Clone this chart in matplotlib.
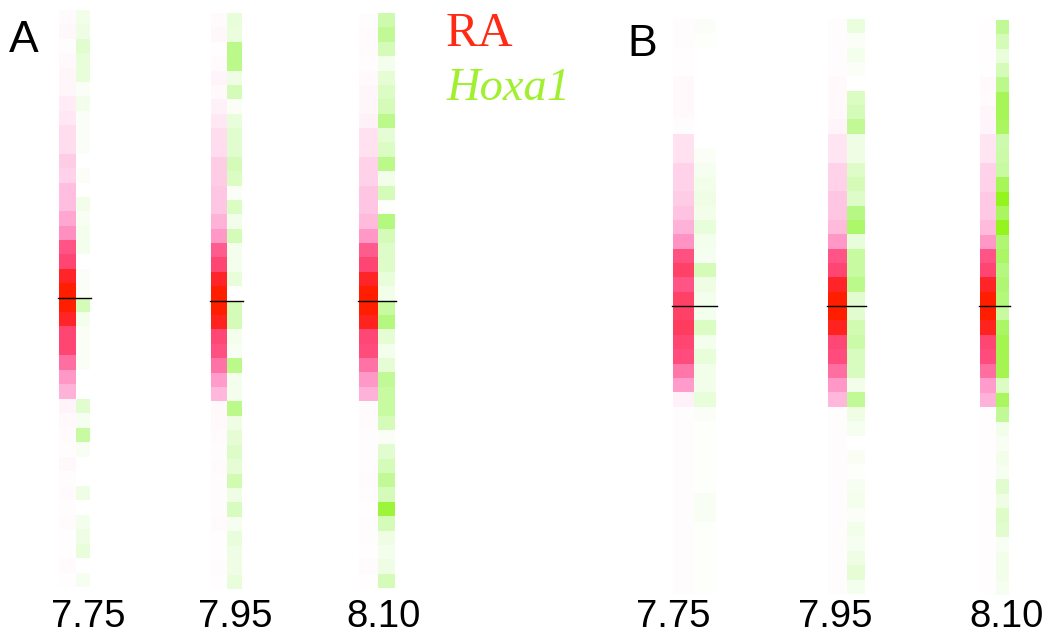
import matplotlib
matplotlib.use('Agg')
import numpy as np
import matplotlib.pyplot as plt
from matplotlib.colors import LinearSegmentedColormap

# stage labels
stages = ['7.75', '7.95', '8.10']

# RA (red) and Hoxa1 (green) intensities, 40 cells top -> bottom, 0..1
ra_A_775 = [0.05, 0.07, 0.03, 0.06, 0.08, 0.08, 0.15, 0.18, 0.25, 0.25,
            0.33, 0.30, 0.40, 0.40, 0.50, 0.58, 0.72, 0.76, 0.90, 1.00,
            1.00, 0.90, 0.76, 0.76, 0.66, 0.56, 0.45, 0.10, 0.06, 0.05,
            0.03, 0.07, 0.03, 0.04, 0.03, 0.04, 0.02, 0.02, 0.05, 0.02]
hox_A_775 = [0.12, 0.15, 0.25, 0.20, 0.20, 0.05, 0.12, 0.04, 0.04, 0.04,
             0.00, 0.05, 0.00, 0.12, 0.06, 0.10, 0.10, 0.00, 0.04, 0.04,
             0.35, 0.10, 0.05, 0.05, 0.05, 0.00, 0.00, 0.25, 0.08, 0.45,
             0.06, 0.00, 0.00, 0.15, 0.00, 0.10, 0.15, 0.20, 0.00, 0.08]
ra_A_795 = [0.04, 0.07, 0.02, 0.05, 0.10, 0.06, 0.12, 0.18, 0.25, 0.25,
            0.33, 0.33, 0.36, 0.36, 0.45, 0.56, 0.70, 0.76, 0.90, 1.00,
            1.00, 0.92, 0.75, 0.73, 0.65, 0.55, 0.43, 0.06, 0.06, 0.04,
            0.03, 0.04, 0.03, 0.03, 0.03, 0.04, 0.02, 0.02, 0.03, 0.02]
hox_A_795 = [0.20, 0.18, 0.55, 0.55, 0.15, 0.35, 0.05, 0.20, 0.25, 0.25,
             0.35, 0.30, 0.05, 0.30, 0.12, 0.35, 0.10, 0.10, 0.20, 0.00,
             0.35, 0.35, 0.10, 0.06, 0.55, 0.10, 0.10, 0.55, 0.15, 0.22,
             0.28, 0.22, 0.38, 0.15, 0.32, 0.08, 0.20, 0.15, 0.15, 0.20]
ra_A_810 = [0.03, 0.04, 0.05, 0.03, 0.06, 0.08, 0.08, 0.12, 0.22, 0.22,
            0.30, 0.30, 0.36, 0.36, 0.42, 0.56, 0.70, 0.76, 0.90, 1.00,
            1.00, 0.92, 0.75, 0.74, 0.65, 0.56, 0.45, 0.04, 0.05, 0.03,
            0.03, 0.03, 0.04, 0.03, 0.02, 0.03, 0.03, 0.02, 0.04, 0.02]
hox_A_810 = [0.40, 0.50, 0.35, 0.10, 0.22, 0.30, 0.35, 0.55, 0.22, 0.30,
             0.55, 0.12, 0.35, 0.03, 0.60, 0.35, 0.28, 0.28, 0.20, 0.12,
             0.45, 0.60, 0.22, 0.10, 0.22, 0.50, 0.45, 0.45, 0.35, 0.05,
             0.25, 0.35, 0.50, 0.35, 0.85, 0.35, 0.15, 0.10, 0.15, 0.35]

ra_B_775 = [0.03, 0.03, 0.02, 0.02, 0.06, 0.06, 0.06, 0.03, 0.22, 0.22,
            0.30, 0.30, 0.33, 0.38, 0.45, 0.57, 0.73, 0.78, 0.72, 0.78,
            0.78, 0.80, 0.76, 0.74, 0.64, 0.55, 0.12, 0.03, 0.03, 0.03,
            0.03, 0.03, 0.03, 0.03, 0.03, 0.03, 0.03, 0.03, 0.03, 0.03]
hox_B_775 = [0.04, 0.03, 0.00, 0.00, 0.00, 0.00, 0.00, 0.00, 0.00, 0.05,
             0.08, 0.12, 0.15, 0.12, 0.20, 0.10, 0.08, 0.35, 0.15, 0.10,
             0.10, 0.30, 0.10, 0.20, 0.12, 0.12, 0.20, 0.05, 0.03, 0.02,
             0.02, 0.02, 0.02, 0.06, 0.06, 0.03, 0.02, 0.03, 0.02, 0.02]
ra_B_795 = [0.03, 0.03, 0.03, 0.03, 0.06, 0.06, 0.06, 0.10, 0.20, 0.20,
            0.30, 0.30, 0.36, 0.36, 0.42, 0.56, 0.72, 0.76, 0.90, 1.00,
            1.00, 0.92, 0.75, 0.74, 0.66, 0.56, 0.43, 0.03, 0.03, 0.03,
            0.03, 0.03, 0.03, 0.03, 0.03, 0.03, 0.03, 0.03, 0.03, 0.03]
hox_B_795 = [0.18, 0.05, 0.10, 0.05, 0.00, 0.30, 0.35, 0.50, 0.15, 0.15,
             0.28, 0.35, 0.28, 0.58, 0.68, 0.20, 0.45, 0.45, 0.55, 0.25,
             0.25, 0.38, 0.42, 0.32, 0.32, 0.12, 0.50, 0.15, 0.08, 0.00,
             0.06, 0.03, 0.08, 0.10, 0.04, 0.12, 0.08, 0.15, 0.22, 0.10]
ra_B_810 = [0.02, 0.02, 0.02, 0.02, 0.06, 0.04, 0.08, 0.10, 0.20, 0.20,
            0.30, 0.30, 0.35, 0.35, 0.42, 0.56, 0.72, 0.76, 0.90, 1.00,
            1.00, 0.92, 0.76, 0.74, 0.66, 0.55, 0.45, 0.02, 0.02, 0.02,
            0.02, 0.02, 0.02, 0.02, 0.02, 0.02, 0.02, 0.02, 0.02, 0.02]
hox_B_810 = [0.50, 0.35, 0.20, 0.35, 0.55, 0.75, 0.75, 0.72, 0.40, 0.42,
             0.45, 0.75, 0.95, 0.72, 0.95, 0.65, 0.70, 0.60, 0.65, 0.62,
             0.45, 0.70, 0.78, 0.78, 0.78, 0.30, 0.72, 0.50, 0.12, 0.06,
             0.12, 0.08, 0.25, 0.15, 0.28, 0.25, 0.06, 0.12, 0.12, 0.08]

red_cmap = LinearSegmentedColormap.from_list('ra', [
    (0, '#ffffff'), (0.1, '#fff4f9'), (0.25, '#ffdcee'), (0.4, '#ffbedf'),
    (0.55, '#ff9ccb'), (0.65, '#ff72a5'), (0.75, '#ff4878'), (0.9, '#ff2428'),
    (1.0, '#ff1e00')])
green_cmap = LinearSegmentedColormap.from_list('hox', [
    (0, '#ffffff'), (0.15, '#eefde4'), (0.35, '#d4fbb8'), (0.6, '#b4f880'),
    (0.8, '#a2f54a'), (1.0, '#90f510')])

# layout of the strips (pixels): red x0, split, green x1, top, centre line, bottom
strips = [
    (ra_A_775, hox_A_775, 59, 75.5, 90, 10, 297.5, 587),
    (ra_A_795, hox_A_795, 211, 227, 242, 13, 300.5, 589),
    (ra_A_810, hox_A_810, 359, 377.5, 395, 13, 300.5, 588),
    (ra_B_775, hox_B_775, 673, 694, 716, 19, 306, 594),
    (ra_B_795, hox_B_795, 828, 847, 865, 19, 306, 594),
    (ra_B_810, hox_B_810, 980, 996, 1009, 20, 306, 595),
]
label_x = [88, 235, 384, 673, 835, 1007]

fig = plt.figure(figsize=(10.44, 6.37), dpi=100)
ax = fig.add_axes([0, 0, 1, 1])
ax.set_xlim(0, 1044)
ax.set_ylim(637, 0)
ax.axis('off')

for i, (ra, hox, x0, xm, x1, top, mid, bot) in enumerate(strips):
    n = len(ra)
    yedges = np.concatenate([np.linspace(top, mid, n // 2 + 1),
                             np.linspace(mid, bot, n // 2 + 1)[1:]])
    ax.pcolormesh([x0, xm], yedges, np.array(ra).reshape(-1, 1),
                  cmap=red_cmap, vmin=0, vmax=1, shading='flat')
    ax.pcolormesh([xm, x1], yedges, np.array(hox).reshape(-1, 1),
                  cmap=green_cmap, vmin=0, vmax=1, shading='flat')
    ax.plot([x0 - 1, x1 + 1], [mid, mid], color='black', linewidth=1.0)
    ax.text(label_x[i], 617, stages[i % 3], ha='center', va='center',
            fontsize=27.5, family='Liberation Sans')

ax.text(9, 40, 'A', ha='left', va='center', fontsize=32, family='Liberation Sans')
ax.text(627, 45, 'B', ha='left', va='center', fontsize=32, family='Liberation Sans')
ax.text(446, 34, 'RA', ha='left', va='center', fontsize=35,
        family='Liberation Serif', color='#ff2a14')
ax.text(446, 89, 'Hoxa1', ha='left', va='center', fontsize=33.5,
        family='Liberation Serif', style='italic', color='#a0f030')

fig.savefig('out.png', dpi=100)
